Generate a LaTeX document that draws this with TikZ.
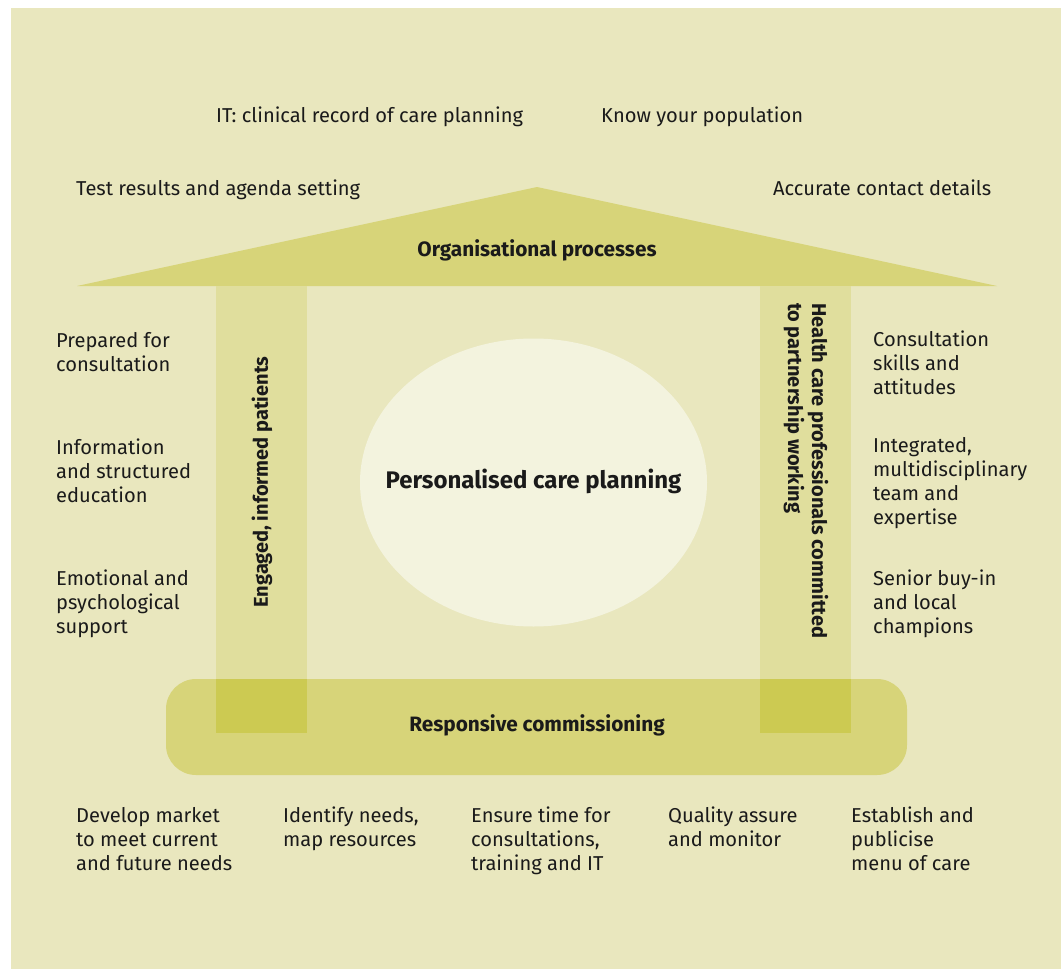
\documentclass[tikz,border=0pt]{standalone}
\usepackage{fontspec}
\setmainfont{Fira Sans}
\usetikzlibrary{shapes,positioning}
\definecolor{bgyellow}{HTML}{E9E7BE}
\definecolor{roofyellow}{HTML}{D7D479}
\definecolor{pillaryellow}{HTML}{E0DE9D}
\definecolor{overlapyellow}{HTML}{CCCA52}
\definecolor{plancream}{HTML}{F3F3DE}
\definecolor{ink}{HTML}{1A1A1A}
\tikzset{
	txt/.style={anchor=north west,inner sep=0,align=left,text=ink,font=\fontsize{20.1}{24}\selectfont},
	head/.style={inner sep=0,text=ink,font=\bfseries\fontsize{20.8}{24}\selectfont},
	pillartxt/.style={inner sep=0,text=ink,align=left,font=\bfseries\fontsize{20}{24}\selectfont},
	plan/.style={inner sep=0,text=ink,font=\bfseries\fontsize{24}{28}\selectfont},
	basebox/.style={fill=roofyellow,rounded corners=30,minimum width=741,minimum height=96,inner sep=0},
	pillar/.style={fill=pillaryellow},
	overlap/.style={fill=overlapyellow}
}
\begin{document}
\begin{tikzpicture}[x=1pt,y=-1pt]
		\useasboundingbox (0,0) rectangle (1061,969);
		\fill[bgyellow] (11,8) rectangle (1061,969);
		
		%%%% roof
		\fill[roofyellow] (77,286) -- (537,187) -- (997,286) -- cycle;
		\node[head] (org) at (537,250) {Organisational processes};
		
		%%%% base and pillars
		\node[basebox] (rc) at (536.5,727) {};
		\fill[pillar] (216,286) rectangle (307,733);
		\fill[pillar] (760,286) rectangle (851,733);
		\fill[overlap] (216,679) rectangle (307,733);
		\fill[overlap] (760,679) rectangle (851,733);
		\node[head] (rclabel) at (537,725) {Responsive commissioning};
		\node[pillartxt,rotate=90] (pat) at (262,482) {Engaged, informed patients};
		\node[pillartxt,rotate=-90,anchor=west] (hcp) at (806,303) {Health care professionals committed\\to partnership working};
		
		%%%% centre
		\fill[plancream] (533.5,482.5) ellipse [x radius=173.5pt, y radius=144pt];
		\node[plan] (pcp) at (533.5,481) {Personalised care planning};
		
		%%%% top
		\node[txt] (it) at (216,107) {IT: clinical record of care planning};
		\node[txt] (pop) at (601,107) {Know your population};
		\node[txt] (test) at (76,180) {Test results and agenda setting};
		\node[txt] (contact) at (773,180) {Accurate contact details};
		
		%%%% left
		\node[txt] (prep) at (56,332) {Prepared for\\consultation};
		\node[txt] (info) at (56,439) {Information\\and structured\\education};
		\node[txt] (emo) at (56,570) {Emotional and\\psychological\\support};
		
		%%%% right
		\node[txt] (skills) at (873,331) {Consultation\\skills and\\attitudes};
		\node[txt] (team) at (873,437) {Integrated,\\multidisciplinary\\team and\\expertise};
		\node[txt] (senior) at (873,570) {Senior buy-in\\and local\\champions};
		
		%%%% bottom
		\node[txt] (market) at (76,807) {Develop market\\to meet current\\and future needs};
		\node[txt] (needs) at (283,807) {Identify needs,\\map resources};
		\node[txt] (time) at (471,807) {Ensure time for\\consultations,\\training and IT};
		\node[txt] (quality) at (668,807) {Quality assure\\and monitor};
		\node[txt] (menu) at (851,807) {Establish and\\publicise\\menu of care};
	\end{tikzpicture}
\end{document}
